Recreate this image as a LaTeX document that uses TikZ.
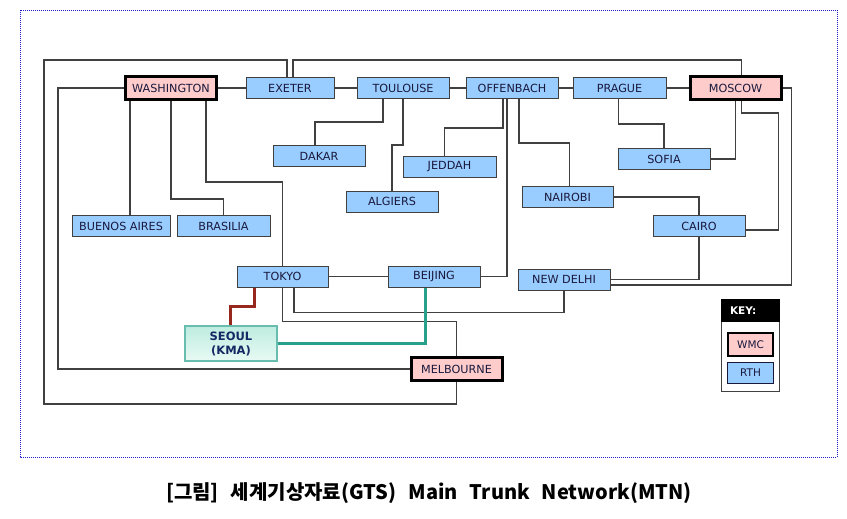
\documentclass[tikz,border=0pt]{standalone}
\usepackage{fontspec}
\newfontfamily\stationfont{DejaVu Sans}
\newfontfamily\capfont{Noto Sans CJK KR}
\usetikzlibrary{positioning}
\definecolor{rthblue}{RGB}{153,204,255}
\definecolor{wmcpink}{RGB}{255,204,204}
\definecolor{linegray}{RGB}{64,64,64}
\definecolor{textnavy}{RGB}{25,25,60}
\definecolor{seoulteal}{RGB}{40,160,140}
\definecolor{seoulred}{RGB}{150,40,30}
\definecolor{framedot}{RGB}{30,30,200}
\tikzset{
 rth/.style={draw=linegray, line width=1pt, fill=rthblue, minimum width=92pt, minimum height=21pt, inner sep=0pt, text=textnavy, font=\stationfont\fontsize{11.2}{13}\selectfont},
 wmc/.style={rth, draw=black, line width=3pt, fill=wmcpink, minimum width=91pt, minimum height=23pt},
 link/.style={draw=linegray, line width=1.2pt},
}

\begin{document}
\begin{tikzpicture}[x=1pt,y=-1pt]
 \useasboundingbox (0,0) rectangle (847,519);
 \draw[framedot, line width=0.8pt, dash pattern=on 1pt off 1pt] (20,10) rectangle (837,457);

 % centres
 \node[wmc] (wash) at (171,88) {WASHINGTON};
 \node[rth, minimum width=88pt] (exeter) at (290,88) {EXETER};
 \node[rth] (toul) at (403,88) {TOULOUSE};
 \node[rth] (offen) at (512,88) {OFFENBACH};
 \node[rth, minimum width=93pt] (prague) at (619.5,88) {PRAGUE};
 \node[wmc] (moscow) at (735.5,88) {MOSCOW};
 \node[rth] (dakar) at (319,156) {DAKAR};
 \node[rth, minimum width=93pt] (jeddah) at (449.5,166.5) {JEDDAH};
 \node[rth] (algiers) at (392,201.5) {ALGIERS};
 \node[rth] (sofia) at (664,159) {SOFIA};
 \node[rth, minimum width=91pt] (nairobi) at (567.5,197) {NAIROBI};
 \node[rth] (cairo) at (699,226) {CAIRO};
 \node[rth, minimum width=98pt] (baires) at (121,226) {BUENOS AIRES};
 \node[rth, minimum width=93pt] (brasilia) at (223.5,226) {BRASILIA};
 \node[rth, minimum width=91pt] (tokyo) at (282.5,276.5) {TOKYO};
 \node[rth] (beijing) at (434,276.5) {BEIJING};
 \node[rth] (delhi) at (564,279.5) {NEW DELHI};
 \node[wmc] (melb) at (456.5,369) {MELBOURNE};
 \node[draw=seoulteal!70, line width=1.5pt, top color={rgb,255:red,190;green,236;blue,224}, bottom color={rgb,255:red,232;green,250;blue,244},
  minimum width=92pt, minimum height=35pt, inner sep=0pt, align=center, text={rgb,255:red,20;green,40;blue,100},
  font=\stationfont\bfseries\fontsize{11.5}{14}\selectfont] (seoul) at (231,343.5) {SEOUL\\(KMA)};

 % key
 \node[draw=linegray, line width=1pt, minimum width=58pt, minimum height=92pt, inner sep=0pt] (key) at (750.5,345.5) {};
 \node[fill=black, minimum width=59pt, minimum height=23pt, inner sep=0pt] (keyhead) at (750.5,310.5) {};
 \node[right=9pt of keyhead.west, anchor=west, inner sep=0pt, text=white, font=\stationfont\bfseries\fontsize{10.5}{12}\selectfont] (keytext) {KEY:};
 \node[rth, draw=black, line width=2pt, fill=wmcpink, minimum width=45pt, minimum height=23pt, font=\stationfont\fontsize{10.5}{12}\selectfont] (keywmc) at (750.5,344.5) {WMC};
 \node[rth, draw=textnavy, minimum width=46pt, minimum height=21pt, font=\stationfont\fontsize{10.5}{12}\selectfont] (keyrth) at (750.5,373) {RTH};

 % connectors
 \foreach \a/\b in {wash/exeter,exeter/toul,toul/offen,offen/prague,prague/moscow,tokyo/beijing} {
  \draw[link] (\a) -- (\b);
 };
 \draw[link] ([xshift=-3pt]exeter.north) |- (44,60) -- (44,404) -| (melb.south);
 \draw[link] ([xshift=3pt]exeter.north) -- ++(0,-17) -| ([xshift=6pt]moscow.north);
 \draw[link] (wash.west) -- ++(-66,0) |- (melb.west);
 \coordinate (bt) at ([xshift=9pt]baires.north);
 \draw[link] (bt) -- (bt |- wash.south);
 \draw[link] (wash.south) -- ++(0,98) -| (brasilia.north);
 \draw[link] ([xshift=35pt]wash.south) -- ++(0,81) -| (tokyo.north);
 \draw[link] ([xshift=-20pt]toul.south) -- ++(0,23) -| ([xshift=-4pt]dakar.north);
 \draw[link] (toul.south) -- ++(0,46) -| (algiers.north);
 \draw[link] ([xshift=-9pt]offen.south) -- ++(0,29) -| ([xshift=-5pt]jeddah.north);
 \draw[link] ([xshift=-5pt]offen.south) |- (beijing.east);
 \draw[link] ([xshift=7pt]offen.south) -- ++(0,44) -| ([xshift=2pt]nairobi.north);
 \draw[link] ([xshift=-1pt]prague.south) -- ++(0,25) -| (sofia.north);
 \draw[link] (moscow.south) |- (sofia.east);
 \draw[link] ([xshift=6pt]moscow.south) -- ++(0,12) -- ++(37,0) |- ([yshift=-4pt]cairo.east);
 \draw[link] (moscow.east) -- ++(9,0) |- ([yshift=-5.5pt]delhi.east);
 \draw[link] (nairobi.east) -| (cairo.north);
 \draw[link] (cairo.south) |- (delhi.east);
 \draw[link] (delhi.south) -- ++(0,22) -| ([xshift=11.5pt]tokyo.south);
 \draw[link] (tokyo.south) -- ++(0,34) -| (melb.north);
 \draw[seoulred, line width=3pt] ([xshift=-1pt]seoul.north) -- ++(0,-19) -| ([xshift=-28.5pt]tokyo.south);
 \draw[seoulteal, line width=3pt] (seoul.east) -| ([xshift=-9pt]beijing.south);

 % caption
 \node[font=\capfont\bfseries\fontsize{20}{24}\selectfont] (caption) at (429,493) {[그림]\hspace{0.6em}세계기상자료(GTS)\hspace{0.6em}Main\hspace{0.6em}Trunk\hspace{0.6em}Network(MTN)};
\end{tikzpicture}
\end{document}
